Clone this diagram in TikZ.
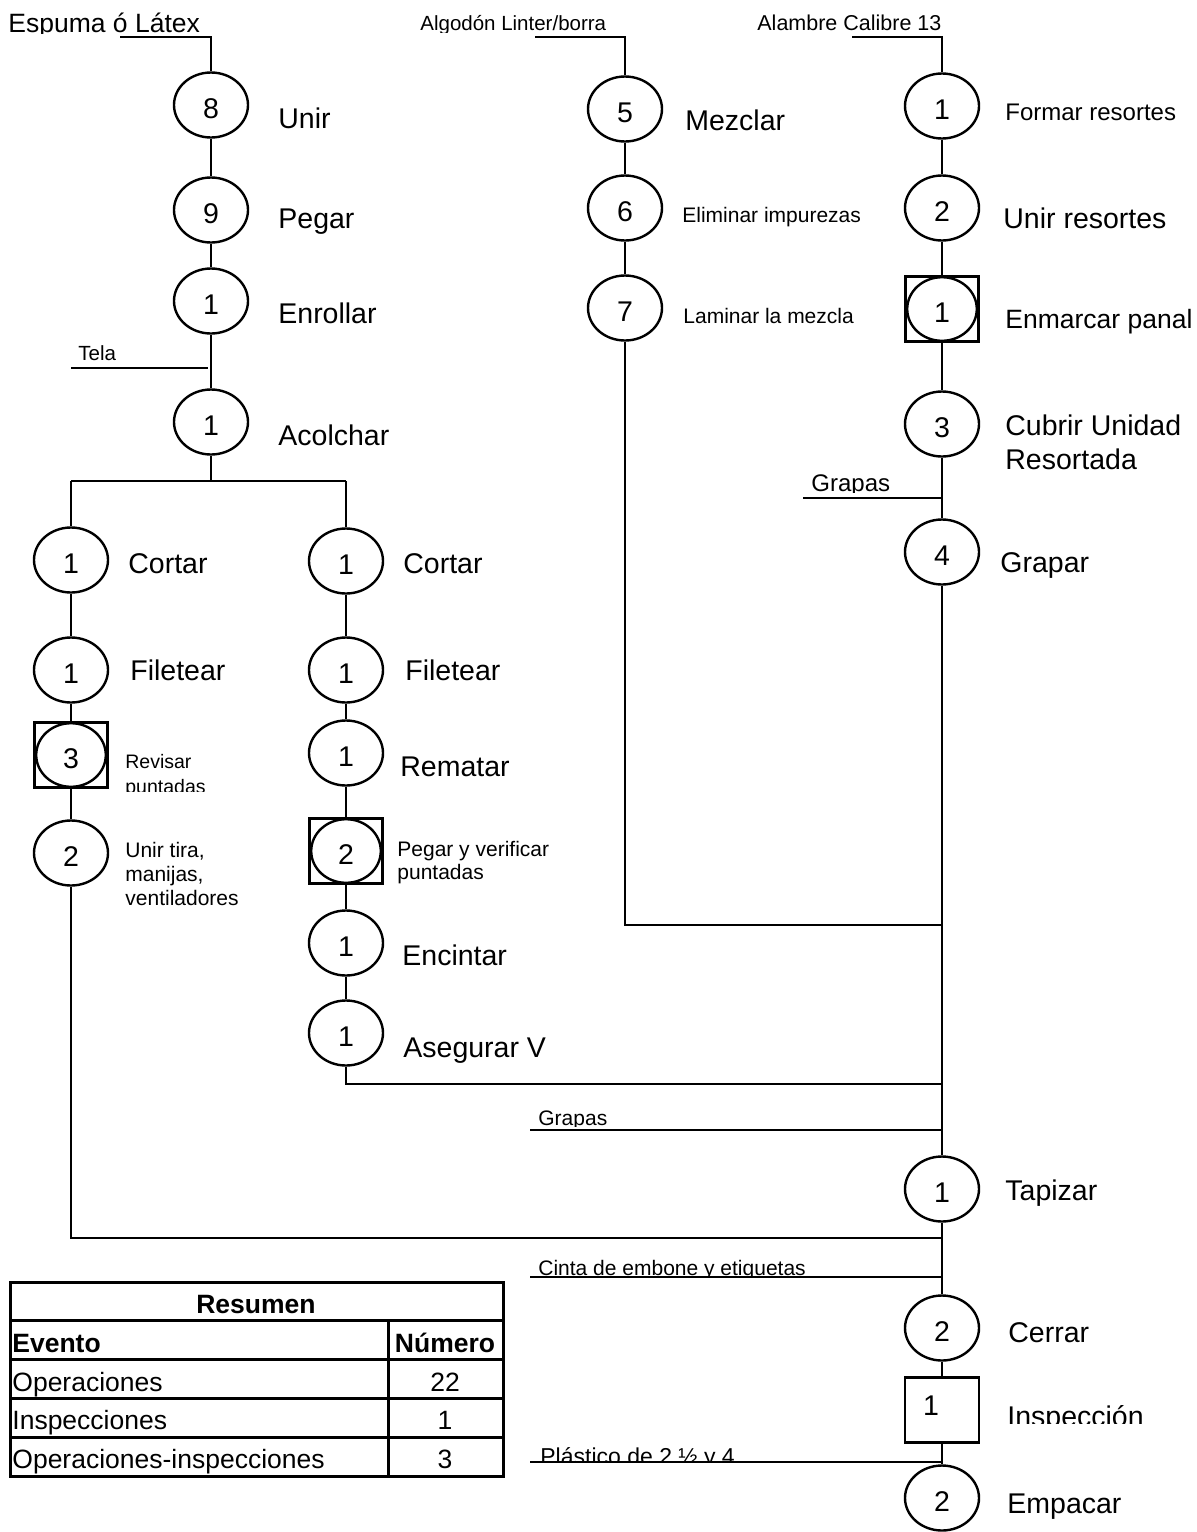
\documentclass[tikz,border=0pt]{standalone}
\usepackage{fontspec}
\setmainfont{Liberation Sans}
\usetikzlibrary{shapes.geometric}

\tikzset{
  flow/.style={line width=1.2pt},
  opnode/.style={ellipse, draw, line width=1.2pt, minimum width=37pt, minimum height=32.5pt,
    inner sep=0pt, text height=13.5pt, text depth=0pt, font=\fontsize{14.25}{17}\selectfont},
  combonode/.style={rectangle, draw, line width=1.2pt, minimum width=36.5pt, minimum height=32.5pt,
    inner sep=0pt, text height=13.5pt, text depth=0pt, font=\fontsize{14.25}{17}\selectfont,
    path picture={\draw[line width=1.2pt] (path picture bounding box.center) ellipse (17.4pt and 15.9pt);}},
  inspnode/.style={rectangle, draw, line width=1.2pt, minimum width=37pt, minimum height=32.5pt,
    inner sep=0pt, font=\fontsize{14.25}{17}\selectfont},
  biglab/.style={anchor=base west, inner sep=0pt, font=\fontsize{14.25}{17}\selectfont},
  midlab/.style={anchor=base west, inner sep=0pt, font=\fontsize{12}{14}\selectfont},
  smalllab/.style={anchor=base west, inner sep=0pt, font=\fontsize{10.5}{12.5}\selectfont},
  tinylab/.style={anchor=base west, inner sep=0pt, font=\fontsize{9.75}{12}\selectfont},
  tabtext/.style={inner sep=0pt, font=\fontsize{13.25}{16}\selectfont},
  tabbold/.style={inner sep=0pt, font=\fontsize{13.25}{16}\selectfont\bfseries},
  tabline/.style={line width=1.5pt},
}

\begin{document}
\begin{tikzpicture}[x=0.5pt,y=-0.5pt]
\useasboundingbox (0,0) rectangle (1197,1532);

% ---------- column 1: foam core ----------
\begin{scope}
  \clip (0,0) rectangle (230,33);
  \node[anchor=base west, inner sep=0pt, font=\fontsize{13.25}{16}\selectfont] (tEspuma) at (8,32) {Espuma ó Látex};
\end{scope}
\coordinate (inEspuma) at (120,37);
\coordinate (cEspuma) at (211,37);

\node[opnode] (o8) at (211,105) {8};
\node[opnode] (o9) at (211,210) {9};
\node[opnode] (o1e) at (211,301) {1};
\node[opnode] (o1a) at (211,422) {1};

\node[biglab] (tUnir) at (278,128) {Unir};
\node[biglab] (tPegar) at (278,228) {Pegar};
\node[biglab] (tEnrollar) at (278,323) {Enrollar};
\node[biglab] (tAcolchar) at (278,445) {Acolchar};

\begin{scope}
  \clip (60,330) rectangle (200,361);
  \node[anchor=base west, inner sep=0pt, font=\fontsize{10.25}{12}\selectfont] (tTela) at (78,360) {Tela};
\end{scope}
\coordinate (inTela) at (71,368);
\coordinate (cTela) at (208,368);

\draw[flow] (inEspuma) -- (cEspuma) -- (o8);
\draw[flow] (o8) -- (o9);
\draw[flow] (o9) -- (o1e);
\draw[flow] (o1e) -- (o1a);
\draw[flow] (inTela) -- (cTela);

% split into two branches
\coordinate (brM) at (211,481);
\coordinate (brL) at (71,481);
\coordinate (brR) at (346,481);
\draw[flow] (o1a) -- (brM);
\draw[flow] (brL) -- (brR);

% ---------- left branch ----------
\node[opnode] (lc) at (71,560) {1};
\node[opnode] (lf) at (71,670) {1};
\node[combonode] (lrev) at (71,755) {3};
\node[opnode] (lun) at (71,853) {2};

\node[biglab] (tCortarL) at (128,573) {Cortar};
\node[biglab] (tFiletearL) at (130,680) {Filetear};
\node[tinylab] (tRevisar) at (125,768) {Revisar};
\begin{scope}
  \clip (110,772) rectangle (260,791);
  \node[tinylab] (tPuntadasL) at (125,793) {puntadas};
\end{scope}
\node[smalllab] (tUnirTira) at (125,857) {Unir tira,};
\node[smalllab] (tManijas) at (125,881) {manijas,};
\node[smalllab] (tVentiladores) at (125,905) {ventiladores};

\draw[flow] (brL) -- (lc);
\draw[flow] (lc) -- (lf);
\draw[flow] (lf) -- (lrev);
\draw[flow] (lrev) -- (lun);

% ---------- right branch ----------
\node[opnode] (rc) at (346,561) {1};
\node[opnode] (rf) at (346,670) {1};
\node[opnode] (rrem) at (346,753) {1};
\node[combonode] (rpeg) at (346,851) {2};
\node[opnode] (renc) at (346,943) {1};
\node[opnode] (rase) at (346,1033) {1};

\node[biglab] (tCortarR) at (403,573) {Cortar};
\node[biglab] (tFiletearR) at (405,680) {Filetear};
\node[biglab] (tRematar) at (400,776) {Rematar};
\node[smalllab] (tPegarVer) at (397,856) {Pegar y verificar};
\node[smalllab] (tPuntadasR) at (397,879) {puntadas};
\node[biglab] (tEncintar) at (402,965) {Encintar};
\node[biglab] (tAsegurar) at (403,1057) {Asegurar V};

\draw[flow] (brR) -- (rc);
\draw[flow] (rc) -- (rf);
\draw[flow] (rf) -- (rrem);
\draw[flow] (rrem) -- (rpeg);
\draw[flow] (rpeg) -- (renc);
\draw[flow] (renc) -- (rase);

% ---------- column 2: cotton ----------
\begin{scope}
  \clip (400,0) rectangle (700,32);
  \node[anchor=base west, inner sep=0pt, font=\fontsize{10.25}{12}\selectfont] (tAlgodon) at (420,30) {Algodón Linter/borra};
\end{scope}
\coordinate (inAlgodon) at (535,37);
\coordinate (cAlgodon) at (625,37);

\node[opnode] (m5) at (625,109) {5};
\node[opnode] (m6) at (625,208) {6};
\node[opnode] (m7) at (625,308) {7};

\node[biglab] (tMezclar) at (685,130) {Mezclar};
\node[smalllab] (tEliminar) at (682,222) {Eliminar impurezas};
\node[smalllab] (tLaminar) at (683,323) {Laminar la mezcla};

\draw[flow] (inAlgodon) -- (cAlgodon) -- (m5);
\draw[flow] (m5) -- (m6);
\draw[flow] (m6) -- (m7);

% ---------- column 3: spring unit and main line ----------
\node[anchor=base west, inner sep=0pt, font=\fontsize{10.75}{13}\selectfont] (tAlambre) at (757,30) {Alambre Calibre 13};
\coordinate (inAlambre) at (852,37);
\coordinate (cAlambre) at (942,37);

\node[opnode] (r1) at (942,106) {1};
\node[opnode] (r2) at (942,208) {2};
\node[combonode] (rsq) at (942,309) {1};
\node[opnode] (r3) at (942,424) {3};
\node[opnode] (r4) at (942,552) {4};
\node[opnode] (tap) at (942,1189) {1};
\node[opnode] (cer) at (942,1328) {2};
\node[inspnode] (insp) at (942,1410) {\raisebox{4pt}{1}\kern11pt};
\node[opnode] (emp) at (942,1498) {2};

\node[midlab] (tFormar) at (1005,120) {Formar resortes};
\node[biglab] (tUnirRes) at (1003,228) {Unir resortes};
\node[biglab, font=\fontsize{13.25}{16}\selectfont] (tEnmarcar) at (1005,328) {Enmarcar panal};
\node[biglab] (tCubrir) at (1005,435) {Cubrir Unidad};
\node[biglab] (tResortada) at (1005,469) {Resortada};
\node[biglab] (tGrapar) at (1000,572) {Grapar};
\node[biglab] (tTapizar) at (1005,1200) {Tapizar};
\node[biglab] (tCerrar) at (1008,1342) {Cerrar};
\begin{scope}
  \clip (995,1390) rectangle (1197,1423);
  \node[biglab] (tInspeccion) at (1007,1426) {Inspección};
\end{scope}
\node[biglab] (tEmpacar) at (1007,1513) {Empacar};

% material inputs joining the main line
\begin{scope}
  \clip (800,460) rectangle (935,492);
  \node[midlab] (tGrapasA) at (811,491) {Grapas};
\end{scope}
\coordinate (inGrapasA) at (803,498);
\coordinate (cGrapasA) at (942,498);

\begin{scope}
  \clip (530,1100) rectangle (935,1126);
  \node[smalllab] (tGrapasB) at (538,1125) {Grapas};
\end{scope}
\coordinate (inGrapasB) at (530,1130);
\coordinate (cGrapasB) at (942,1130);

\begin{scope}
  \clip (530,1250) rectangle (935,1276);
  \node[smalllab] (tCinta) at (538,1275) {Cinta de embone y etiquetas};
\end{scope}
\coordinate (inCinta) at (530,1277);
\coordinate (cCinta) at (942,1277);

\begin{scope}
  \clip (530,1435) rectangle (935,1460);
  \node[anchor=base west, inner sep=0pt, font=\fontsize{11.5}{14}\selectfont] (tPlastico) at (540,1464) {Plástico de 2 ½ y 4};
\end{scope}
\coordinate (inPlastico) at (530,1462);
\coordinate (cPlastico) at (942,1462);

% junctions of the sub-assemblies with the main line
\coordinate (jM) at (942,925);
\coordinate (jR) at (942,1084);
\coordinate (jL) at (942,1238);

\draw[flow] (inAlambre) -- (cAlambre) -- (r1);
\draw[flow] (r1) -- (r2);
\draw[flow] (r2) -- (rsq);
\draw[flow] (rsq) -- (r3);
\draw[flow] (r3) -- (r4);
\draw[flow] (r4) -- (tap);
\draw[flow] (tap) -- (cer);
\draw[flow] (cer) -- (insp);
\draw[flow] (insp) -- (emp);
\draw[flow] (inGrapasA) -- (cGrapasA);
\draw[flow] (inGrapasB) -- (cGrapasB);
\draw[flow] (inCinta) -- (cCinta);
\draw[flow] (inPlastico) -- (cPlastico);
\draw[flow] (m7) |- (jM);
\draw[flow] (rase) |- (jR);
\draw[flow] (lun) |- (jL);

% ---------- summary table ----------
\draw[tabline] (10,1282) rectangle (503,1476);
\draw[tabline] (10,1320) -- (503,1320);
\draw[tabline] (10,1359) -- (503,1359);
\draw[tabline] (10,1398) -- (503,1398);
\draw[tabline] (10,1437) -- (503,1437);
\draw[tabline] (388,1320) -- (388,1476);

\node[tabbold, anchor=base] (hResumen) at (256,1313) {Resumen};
\node[tabbold, anchor=base west] (hEvento) at (12,1352) {Evento};
\node[tabbold, anchor=base] (hNumero) at (445,1352) {Número};
\node[tabtext, anchor=base west] (rowOp) at (12,1391) {Operaciones};
\node[tabtext, anchor=base] (valOp) at (445,1391) {22};
\node[tabtext, anchor=base west] (rowIn) at (12,1429) {Inspecciones};
\node[tabtext, anchor=base] (valIn) at (445,1429) {1};
\node[tabtext, anchor=base west] (rowOI) at (12,1468) {Operaciones-inspecciones};
\node[tabtext, anchor=base] (valOI) at (445,1468) {3};
\end{tikzpicture}
\end{document}
